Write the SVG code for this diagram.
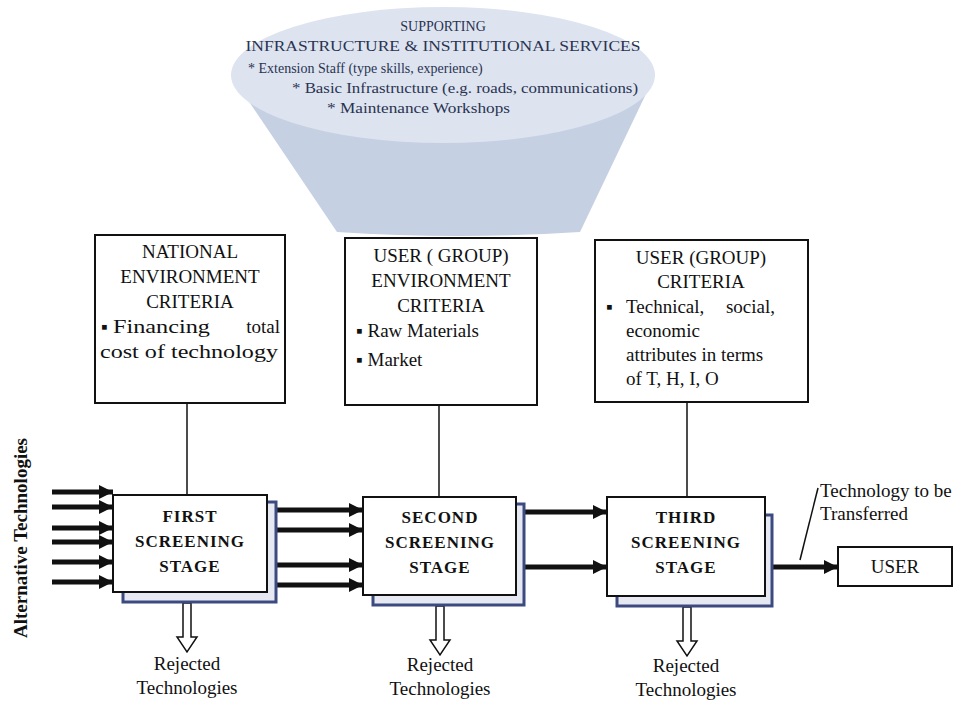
<svg xmlns="http://www.w3.org/2000/svg" width="969" height="702" viewBox="0 0 969 702">
<defs>
<marker id="ah" markerUnits="userSpaceOnUse" markerWidth="16" markerHeight="16" refX="14" refY="8" orient="auto">
<path d="M0,1 L14,8 L0,15 Z" fill="#111"/>
</marker>
<style>
.bx{fill:#fff;stroke:#111;stroke-width:2}
.t{font-family:"Liberation Serif","Times New Roman",serif;font-size:19px;fill:#111}
.st{font-family:"Liberation Serif","Times New Roman",serif;font-size:17px;fill:#111;font-weight:bold;letter-spacing:1px}
.ft{font-family:"Liberation Serif","Times New Roman",serif;font-size:14px;fill:#2a3350}
.sh{fill:#e6e9f2;stroke:#3d4a80;stroke-width:3}
.ln{stroke:#111;stroke-width:1.5;fill:none}
.th{stroke:#111;stroke-width:5;fill:none;marker-end:url(#ah)}
.rj{fill:#fff;stroke:#111;stroke-width:1.5}
</style>
</defs>
<rect width="969" height="702" fill="#fff"/>
<g id="funnel">
<path d="M231,75 L337,232 Q458,240 580,232 L655,75 Z" fill="#c6d0e3"/>
<ellipse cx="443" cy="75" rx="212" ry="68" fill="#dde4f0"/>
<text class="ft" x="443" y="31" text-anchor="middle">SUPPORTING</text>
<text class="ft" x="443" y="51" text-anchor="middle" textLength="395" lengthAdjust="spacingAndGlyphs">INFRASTRUCTURE &amp; INSTITUTIONAL SERVICES</text>
<text class="ft" x="248" y="73">* Extension Staff (type skills, experience)</text>
<text class="ft" x="292" y="93" textLength="346" lengthAdjust="spacingAndGlyphs">* Basic Infrastructure (e.g. roads, communications)</text>
<text class="ft" x="327" y="113" textLength="183" lengthAdjust="spacingAndGlyphs">* Maintenance Workshops</text>
</g>
<g id="connectors">
<line class="ln" x1="187" y1="403" x2="187" y2="495"/>
<line class="ln" x1="439" y1="405" x2="439" y2="497"/>
<line class="ln" x1="687" y1="402" x2="687" y2="497"/>
<line class="th" x1="52" y1="492" x2="113" y2="492"/>
<line class="th" x1="52" y1="507" x2="113" y2="507"/>
<line class="th" x1="52" y1="528" x2="113" y2="528"/>
<line class="th" x1="52" y1="542" x2="113" y2="542"/>
<line class="th" x1="52" y1="562" x2="113" y2="562"/>
<line class="th" x1="52" y1="582" x2="113" y2="582"/>
<line class="th" x1="267" y1="510" x2="363" y2="510"/>
<line class="th" x1="267" y1="530" x2="363" y2="530"/>
<line class="th" x1="267" y1="565" x2="363" y2="565"/>
<line class="th" x1="267" y1="585" x2="363" y2="585"/>
<line class="th" x1="516" y1="512" x2="607" y2="512"/>
<line class="th" x1="516" y1="567" x2="607" y2="567"/>
<line class="th" x1="765" y1="567" x2="838" y2="567"/>
<line class="ln" x1="818" y1="488" x2="800" y2="560"/>
<path class="rj" d="M183,603 L191,603 L191,637 L197,637 L187,652 L177,637 L183,637 Z"/>
<path class="rj" d="M436,606 L444,606 L444,640 L450,640 L440,655 L430,640 L436,640 Z"/>
<path class="rj" d="M683,607 L691,607 L691,641 L697,641 L687,656 L677,641 L683,641 Z"/>
</g>
<g id="national">
<rect class="bx" x="95" y="235" width="190" height="168"/>
<text class="t" x="190" y="258" text-anchor="middle">NATIONAL</text>
<text class="t" x="190" y="283" text-anchor="middle">ENVIRONMENT</text>
<text class="t" x="190" y="308" text-anchor="middle">CRITERIA</text>
<text class="t" x="101" y="333">▪</text>
<text class="t" x="113" y="333" textLength="97" lengthAdjust="spacingAndGlyphs">Financing</text>
<text class="t" x="280" y="333" text-anchor="end">total</text>
<text class="t" x="100" y="358" textLength="178" lengthAdjust="spacingAndGlyphs">cost of technology</text>
</g>
<g id="userenv">
<rect class="bx" x="345" y="238" width="192" height="167"/>
<text class="t" x="441" y="262" text-anchor="middle">USER ( GROUP)</text>
<text class="t" x="441" y="287" text-anchor="middle">ENVIRONMENT</text>
<text class="t" x="441" y="312" text-anchor="middle">CRITERIA</text>
<text class="t" x="356" y="337">▪  Raw Materials</text>
<text class="t" x="356" y="366">▪  Market</text>
</g>
<g id="usercrit">
<rect class="bx" x="595" y="240" width="213" height="162"/>
<text class="t" x="701" y="264" text-anchor="middle">USER (GROUP)</text>
<text class="t" x="701" y="288" text-anchor="middle">CRITERIA</text>
<text class="t" x="606" y="313">▪</text>
<text class="t" x="626" y="313">Technical,</text>
<text class="t" x="775" y="313" text-anchor="end">social,</text>
<text class="t" x="626" y="337">economic</text>
<text class="t" x="626" y="361">attributes in terms</text>
<text class="t" x="626" y="385">of T, H, I, O</text>
</g>
<g id="stage1">
<rect class="sh" x="123" y="502" width="153" height="100"/>
<rect class="bx" x="113" y="495" width="154" height="97"/>
<text class="st" x="190" y="522" text-anchor="middle">FIRST</text>
<text class="st" x="190" y="547" text-anchor="middle">SCREENING</text>
<text class="st" x="190" y="572" text-anchor="middle">STAGE</text>
</g>
<g id="stage2">
<rect class="sh" x="373" y="504" width="151" height="101"/>
<rect class="bx" x="363" y="497" width="153" height="98"/>
<text class="st" x="440" y="523" text-anchor="middle">SECOND</text>
<text class="st" x="440" y="548" text-anchor="middle">SCREENING</text>
<text class="st" x="440" y="573" text-anchor="middle">STAGE</text>
</g>
<g id="stage3">
<rect class="sh" x="617" y="515" width="155" height="91"/>
<rect class="bx" x="607" y="497" width="158" height="99"/>
<text class="st" x="686" y="523" text-anchor="middle">THIRD</text>
<text class="st" x="686" y="548" text-anchor="middle">SCREENING</text>
<text class="st" x="686" y="573" text-anchor="middle">STAGE</text>
</g>
<g id="user">
<rect class="bx" x="838" y="547" width="114" height="39"/>
<text class="t" x="895" y="573" text-anchor="middle">USER</text>
</g>
<g id="labels">
<text class="t" x="820" y="497">Technology to be</text>
<text class="t" x="820" y="520">Transferred</text>
<text class="t" x="187" y="670" text-anchor="middle">Rejected</text>
<text class="t" x="187" y="694" text-anchor="middle">Technologies</text>
<text class="t" x="440" y="671" text-anchor="middle">Rejected</text>
<text class="t" x="440" y="695" text-anchor="middle">Technologies</text>
<text class="t" x="686" y="672" text-anchor="middle">Rejected</text>
<text class="t" x="686" y="696" text-anchor="middle">Technologies</text>
<text class="t" x="0" y="0" font-size="15" font-weight="bold" transform="translate(27,538) rotate(-90)" text-anchor="middle">Alternative Technologies</text>
</g>
</svg>
